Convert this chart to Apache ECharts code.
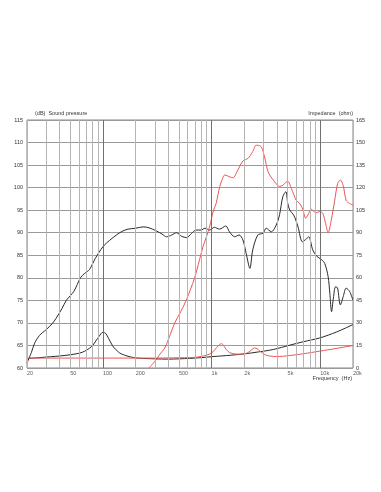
<!DOCTYPE html>
<html><head><meta charset="utf-8">
<script src="https://cdn.jsdelivr.net/npm/echarts@6/dist/echarts.min.js"></script>
<style>html,body{margin:0;padding:0;background:#fff}#c{width:381px;height:492px}</style>
</head><body><div id="c"></div>
<script>
// ---- tick labels / grid ----
const xTickValues = [20, 50, 100, 200, 500, 1000, 2000, 5000, 10000, 20000];
const xTickLabels = ['20', '50', '100', '200', '500', '1k', '2k', '5k', '10k', '20k'];
const gridFreqs = [20, 30, 40, 50, 60, 70, 80, 90, 100, 200, 300, 400, 500, 600, 700, 800, 900,
  1000, 2000, 3000, 4000, 5000, 6000, 7000, 8000, 9000, 10000, 20000];
const majorFreqs = [100, 1000, 10000];

// ---- black SPL (dB) ----
const splBlackFreq = [20, 22, 23.5, 26, 30, 34, 37, 42, 46, 50, 54, 58, 62, 68, 75, 85, 100, 115, 133, 150, 170, 200, 235, 265, 310, 350, 385, 430, 475, 530, 590, 650, 720, 800, 870, 960, 1060, 1180, 1350, 1460, 1630, 1790, 1940, 2080, 2250, 2390, 2660, 2970, 3180, 3540, 3930, 4220, 4520, 4820, 5020, 5240, 5700, 6240, 6840, 7340, 7820, 8520, 9260, 10200, 10980, 11800, 12240, 12700, 13200, 13800, 14400, 15300, 16240, 17300, 18600, 20000];
const splBlackDb = [61.1, 63.5, 65.5, 67.2, 68.5, 69.8, 71, 73.2, 75, 76, 77, 78.5, 80, 81, 81.8, 84.3, 86.9, 88.3, 89.5, 90.3, 90.8, 91, 91.3, 91.1, 90.4, 89.7, 89.1, 89.5, 90, 89.2, 88.9, 89.8, 90.6, 90.6, 91, 90.6, 91.2, 90.8, 91.5, 90.2, 89.1, 89.5, 88.4, 85.4, 82.1, 86.2, 89.5, 89.9, 91, 90.2, 91.7, 94, 98, 99.1, 96.5, 95, 93.9, 91.3, 88, 88.5, 89.1, 86.2, 84.8, 84.1, 83.2, 80.3, 76.6, 72.5, 75.5, 78, 77.8, 74, 75.8, 77.7, 77, 75];

// ---- red SPL (dB) ----
const splRedFreq = [266, 300, 340, 370, 410, 458, 520, 586, 640, 696, 774, 830, 896, 962, 1030, 1100, 1186, 1250, 1318, 1400, 1462, 1572, 1742, 1940, 2160, 2390, 2560, 2660, 2870, 3070, 3310, 3690, 4220, 4520, 4820, 5020, 5420, 6000, 6460, 6900, 7340, 7680, 8280, 9100, 9880, 10540, 11200, 11800, 12620, 13580, 14440, 15300, 16240, 17300, 18600, 20000];
const splRedDb = [60, 61.5, 63.3, 64.4, 67, 70, 72.5, 75.1, 77.5, 79.9, 84, 86.8, 89.1, 91.5, 94.6, 96.5, 100.2, 101.8, 102.8, 102.6, 102.4, 102.2, 103.9, 105.9, 106.5, 108, 109.4, 109.4, 109, 106.8, 103.5, 101.7, 100.3, 100.5, 101.2, 101.4, 99.8, 97.2, 96.5, 95.2, 93.2, 93.9, 95.2, 94.4, 94.7, 94.3, 92, 90, 92.8, 97.2, 100.9, 101.7, 100.5, 97.2, 96.5, 96.1];

// ---- black impedance (ohm) ----
const impBlackFreq = [20, 25, 33, 40, 50, 61, 68, 75, 81, 86, 92, 100, 106, 113, 120, 125, 135, 143, 155, 170, 190, 217, 300, 396, 500, 628, 800, 1030, 1500, 2000, 2700, 3690, 5240, 7000, 9880, 14160, 20000];
const impBlackOhm = [6.3, 6.8, 7.5, 8, 8.8, 9.9, 11.2, 13.1, 15.3, 18, 21, 23.8, 23, 19.5, 16, 13.9, 11.5, 9.9, 8.8, 7.8, 7, 6.5, 6.1, 5.9, 6.1, 6.4, 6.9, 7.6, 8.5, 9.4, 10.7, 12.3, 15.2, 17.5, 20, 24, 28.9];

// ---- red impedance (ohm) ----
const impRedFreq = [20, 100, 200, 300, 400, 500, 628, 750, 896, 1000, 1065, 1150, 1234, 1300, 1364, 1450, 1572, 1800, 2000, 2150, 2250, 2400, 2490, 2620, 2760, 2950, 3180, 3500, 3930, 4500, 5240, 7000, 9880, 14000, 20000];
const impRedOhm = [6.6, 6.6, 6.6, 6.6, 6.7, 6.8, 6.9, 7.3, 8.5, 10, 12, 14.8, 16.2, 14.5, 12.3, 10.5, 9.5, 9.2, 9.4, 10.2, 11.2, 12.8, 13.3, 12.8, 11.5, 9.8, 8.5, 7.9, 7.6, 7.8, 8.3, 9.5, 11.2, 13, 15];

const pair = (xs, ys) => xs.map((x, i) => [x, ys[i]]);
const BLACK = '#2a2a2a', RED = '#ee5555';
const FONT = 'Liberation Sans, Arial, sans-serif';

const chart = echarts.init(document.getElementById('c'), null, {renderer: 'canvas'});
chart.setOption({
  animation: false,
  backgroundColor: '#fff',
  grid: {left: 27, right: 28, top: 120, bottom: 124, show: true, borderColor: '#888', borderWidth: 1, backgroundColor: 'transparent'},
  xAxis: {
    type: 'log', logBase: 10, min: 20, max: 20000,
    axisLine: {show: false}, axisTick: {show: false}, axisLabel: {show: false}, splitLine: {show: false},
    name: 'Frequency  (Hz)', nameLocation: 'end', nameGap: -1,
    nameTextStyle: {fontSize: 5.5, color: '#333', fontFamily: FONT, align: 'right', verticalAlign: 'top', padding: [7, 0, 0, 0]}
  },
  yAxis: [{
    type: 'value', min: 60, max: 115, interval: 5, position: 'left',
    axisLine: {show: false}, axisTick: {show: false},
    axisLabel: {fontSize: 5.5, color: '#333', margin: 4, fontFamily: FONT},
    splitLine: {lineStyle: {color: '#9a9a9a', width: 1}},
    name: '(dB)  Sound pressure', nameLocation: 'end', nameGap: 4,
    nameTextStyle: {fontSize: 5.5, color: '#333', fontFamily: FONT, align: 'left', padding: [0, 0, 0, 8]}
  }, {
    type: 'value', min: 0, max: 165, interval: 15, position: 'right',
    axisLine: {show: false}, axisTick: {show: false},
    axisLabel: {fontSize: 5.5, color: '#333', margin: 3, fontFamily: FONT},
    splitLine: {show: false},
    name: 'Impedance  (ohm)', nameLocation: 'end', nameGap: 4,
    nameTextStyle: {fontSize: 5.5, color: '#333', fontFamily: FONT, align: 'right', padding: [0, 0, 0, 0]}
  }],
  series: [
    {
      type: 'scatter', name: 'ticks', yAxisIndex: 0, symbolSize: 0, silent: true, clip: false,
      data: xTickValues.map((v, i) => ({value: [v, 60], label: {formatter: xTickLabels[i]}})),
      label: {show: true, position: 'bottom', distance: 2, align: 'left', fontSize: 5.5, color: '#333', fontFamily: FONT},
      markLine: {
        silent: true, symbol: ['none', 'none'], label: {show: false}, animation: false,
        data: gridFreqs.map(f => ({xAxis: f, lineStyle: {type: 'solid', width: 1,
          color: majorFreqs.includes(f) ? '#707070' : '#b4b4b4'}}))
      },
      z: 1
    },
    {type: 'line', name: 'SPL black', yAxisIndex: 0, data: pair(splBlackFreq, splBlackDb), showSymbol: false, smooth: 0.3,
      lineStyle: {color: BLACK, width: 1}, itemStyle: {color: BLACK}, z: 3},
    {type: 'line', name: 'SPL red', yAxisIndex: 0, data: pair(splRedFreq, splRedDb), showSymbol: false, smooth: 0.3,
      lineStyle: {color: RED, width: 1}, itemStyle: {color: RED}, z: 3},
    {type: 'line', name: 'Impedance black', yAxisIndex: 1, data: pair(impBlackFreq, impBlackOhm), showSymbol: false, smooth: 0.3,
      lineStyle: {color: BLACK, width: 1}, itemStyle: {color: BLACK}, z: 3},
    {type: 'line', name: 'Impedance red', yAxisIndex: 1, data: pair(impRedFreq, impRedOhm), showSymbol: false, smooth: 0.3,
      lineStyle: {color: RED, width: 1}, itemStyle: {color: RED}, z: 3}
  ]
});
</script></body></html>
